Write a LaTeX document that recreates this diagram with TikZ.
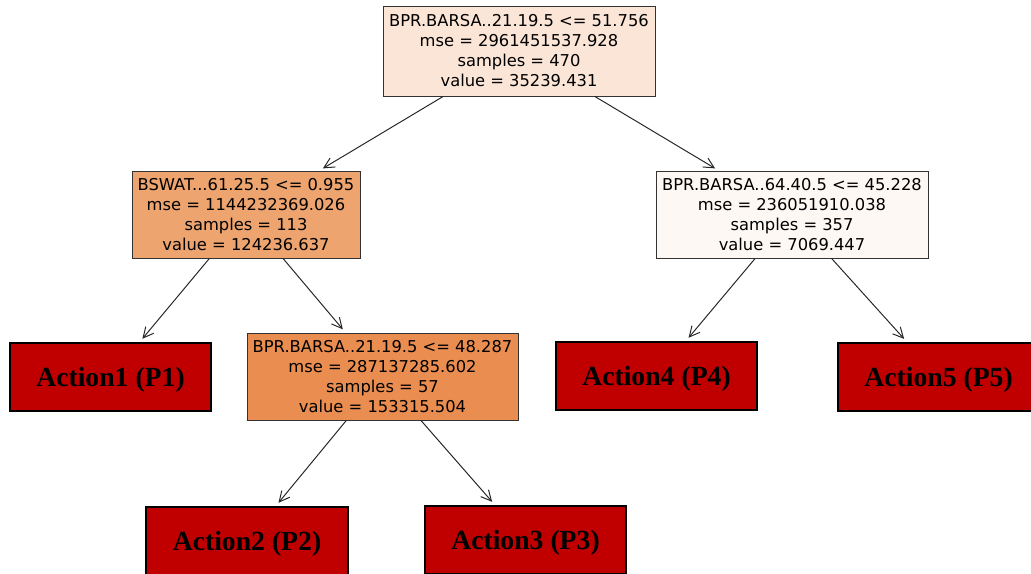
\documentclass[tikz,border=0pt]{standalone}
\usepackage{fontspec}
\setmainfont{DejaVu Sans}
\newfontfamily\actfont{Liberation Serif}
\usetikzlibrary{positioning,arrows.meta}
\definecolor{rootfill}{RGB}{251,229,215}
\definecolor{leftfill}{RGB}{237,164,110}
\definecolor{midfill}{RGB}{234,141,80}
\definecolor{rightfill}{RGB}{254,248,244}
\definecolor{actred}{RGB}{192,0,0}

\begin{document}
\begin{tikzpicture}[x=0.025cm,y=-0.025cm,
    split/.style={draw=black!80,line width=0.6pt,inner sep=0pt,align=center,
      font=\fontsize{11.6}{14.2}\selectfont,minimum height=2.175cm},
    act/.style={draw=black,line width=1.4pt,fill=actred,inner sep=0pt,
      minimum width=5.025cm,minimum height=1.7cm,text height=16pt,text depth=2pt,
      font=\actfont\bfseries\fontsize{19.7}{22}\selectfont},
    edge/.style={-{Straight Barb[length=2.6mm,width=2.6mm]},black!85,line width=0.7pt,shorten >=3pt}]
    \useasboundingbox (0,0) rectangle (1031,573);
    \node [split,fill=rootfill,minimum width=6.8cm,minimum height=2.25cm] (root) at (519,51)
      {BPR.BARSA..21.19.5 <= 51.756\\mse = 2961451537.928\\samples = 470\\value = 35239.431};
    \node [split,fill=leftfill,minimum width=5.7cm] (left) at (246,214.5)
      {BSWAT...61.25.5 <= 0.955\\mse = 1144232369.026\\samples = 113\\value = 124236.637};
    \node [split,fill=rightfill,minimum width=6.8cm] (right) at (792,214.5)
      {BPR.BARSA..64.40.5 <= 45.228\\mse = 236051910.038\\samples = 357\\value = 7069.447};
    \node [split,fill=midfill,minimum width=6.775cm] (mid) at (382.5,376.5)
      {BPR.BARSA..21.19.5 <= 48.287\\mse = 287137285.602\\samples = 57\\value = 153315.504};
    \node [act] (act1) at (110.5,377) {Action1 (P1)};
    \node [act] (act2) at (247,541) {Action2 (P2)};
    \node [act] (act3) at (525.5,540) {Action3 (P3)};
    \node [act] (act4) at (656.5,376) {Action4 (P4)};
    \node [act] (act5) at (938.5,377) {Action5 (P5)};
    \draw [edge] (root) -- (left);
    \draw [edge] (root) -- (right);
    \draw [edge] (left) -- (act1);
    \draw [edge] (left) -- (mid);
    \draw [edge] (right) -- (act4);
    \draw [edge] (right) -- (act5);
    \draw [edge] (mid) -- (act2);
    \draw [edge] (mid) -- (act3);
\end{tikzpicture}
\end{document}
